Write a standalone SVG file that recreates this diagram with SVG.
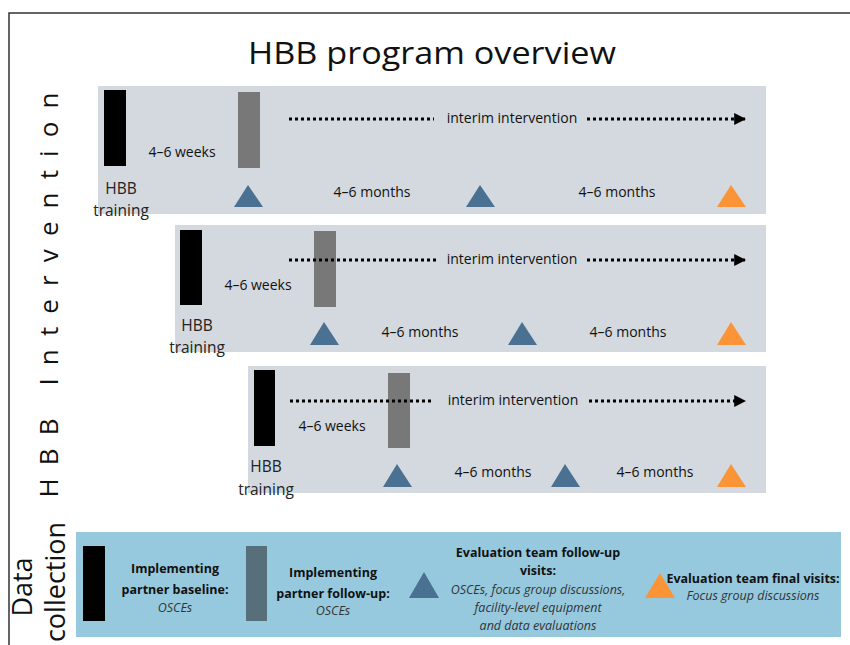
<svg xmlns="http://www.w3.org/2000/svg" width="850" height="645" viewBox="0 0 850 645">
<defs>
<style>
text{font-family:"Open Sans","Noto Sans","Liberation Sans",sans-serif;fill:#111}
.panel{fill:#d3d9df}
.blk{fill:#000}
.gry{fill:#787878}
.lbl{font-size:14px;text-anchor:middle}
.hbb{font-size:15.5px;text-anchor:middle;fill:#222}
.tri{fill:#4a7092}
.org{fill:#fb9436}
.dot{stroke:#000;stroke-width:3;stroke-dasharray:3 3;fill:none}
.dc{font-size:12.5px;text-anchor:middle;font-weight:bold}
.it{font-size:12.5px;text-anchor:middle;font-style:italic;fill:#333}
</style>
<marker id="ah" viewBox="0 0 10 10" refX="9" refY="5" markerWidth="4" markerHeight="4" orient="auto" markerUnits="strokeWidth">
<path d="M0,0 L10,5 L0,10 z" fill="#000"/>
</marker>
</defs>
<rect width="850" height="645" fill="#fff"/>
<path d="M9,645 V13 H850" fill="none" stroke="#333" stroke-width="1.5"/>
<text x="432" y="64" font-size="31" text-anchor="middle" textLength="368" lengthAdjust="spacingAndGlyphs">HBB program overview</text>
<text transform="translate(58,295) rotate(-90)" font-size="26" text-anchor="middle" textLength="405" lengthAdjust="spacing" fill="#111">HBB Intervention</text>
<text transform="translate(32,587) rotate(-90)" font-size="27" text-anchor="middle">Data</text>
<text transform="translate(65,582) rotate(-90)" font-size="27" text-anchor="middle">collection</text>

<g id="row1">
<rect class="panel" x="98" y="86" width="668" height="128"/>
<rect class="blk" x="104" y="90" width="22" height="76"/>
<rect class="gry" x="238" y="92" width="22" height="76"/>
<text class="lbl" x="182" y="157">4–6 weeks</text>
<text class="hbb" x="121" y="194">HBB</text>
<text class="hbb" x="121" y="216">training</text>
<polygon class="tri" points="234,207 248,185 263,207"/>
<polygon class="tri" points="466,207 480,185 495,207"/>
<polygon class="org" points="717,207 731,185 746,207"/>
<text class="lbl" x="372" y="197">4–6 months</text>
<text class="lbl" x="617" y="197">4–6 months</text>
<text class="lbl" x="512" y="123">interim intervention</text>
</g>
<g id="row2">
<rect class="panel" x="175" y="225" width="591" height="127"/>
<rect class="blk" x="180" y="230" width="22" height="75"/>
<rect class="gry" x="314" y="231" width="22" height="76"/>
<text class="lbl" x="258" y="290">4–6 weeks</text>
<text class="hbb" x="197" y="331">HBB</text>
<text class="hbb" x="197" y="353">training</text>
<polygon class="tri" points="310,345 324,322 339,345"/>
<polygon class="tri" points="508,345 522,322 537,345"/>
<polygon class="org" points="717,345 731,322 746,345"/>
<text class="lbl" x="420" y="337">4–6 months</text>
<text class="lbl" x="628" y="337">4–6 months</text>
<text class="lbl" x="512" y="264">interim intervention</text>
</g>
<g id="row3">
<rect class="panel" x="248" y="366" width="518" height="127"/>
<rect class="blk" x="254" y="370" width="21" height="76"/>
<rect class="gry" x="388" y="373" width="22" height="75"/>
<text class="lbl" x="332" y="431">4–6 weeks</text>
<text class="hbb" x="266" y="472">HBB</text>
<text class="hbb" x="266" y="495">training</text>
<polygon class="tri" points="383,487 397,464 412,487"/>
<polygon class="tri" points="551,487 565,464 580,487"/>
<polygon class="org" points="717,487 731,464 746,487"/>
<text class="lbl" x="493" y="477">4–6 months</text>
<text class="lbl" x="655" y="477">4–6 months</text>
<text class="lbl" x="513" y="405">interim intervention</text>
</g>
<g id="connectors">
<path class="dot" d="M289,119 H434"/>
<path class="dot" d="M587,119 H745" marker-end="url(#ah)"/>
<path class="dot" d="M289,260 H436"/>
<path class="dot" d="M587,260 H745" marker-end="url(#ah)"/>
<path class="dot" d="M290,401 H434"/>
<path class="dot" d="M589,401 H745" marker-end="url(#ah)"/>
</g>
<g id="datacollection">
<rect x="76" y="532" width="765" height="105" fill="#97c9de"/>
<rect class="blk" x="83" y="546" width="22" height="75"/>
<rect x="246" y="546" width="21" height="75" fill="#566f7a"/>
<text class="dc" x="175" y="573">Implementing</text>
<text class="dc" x="175" y="594">partner baseline:</text>
<text class="it" x="175" y="612">OSCEs</text>
<text class="dc" x="333" y="577">Implementing</text>
<text class="dc" x="333" y="598">partner follow-up:</text>
<text class="it" x="333" y="615">OSCEs</text>
<polygon class="tri" points="409,598 424,572 439,598"/>
<text class="dc" x="538" y="557">Evaluation team follow-up</text>
<text class="dc" x="538" y="575">visits:</text>
<text class="it" x="538" y="594">OSCEs, focus group discussions,</text>
<text class="it" x="538" y="612">facility-level equipment</text>
<text class="it" x="538" y="630">and data evaluations</text>
<polygon class="org" points="645,598 660,573 675,598"/>
<text class="dc" x="753" y="583">Evaluation team final visits:</text>
<text class="it" x="753" y="600">Focus group discussions</text>
</g>
</svg>
